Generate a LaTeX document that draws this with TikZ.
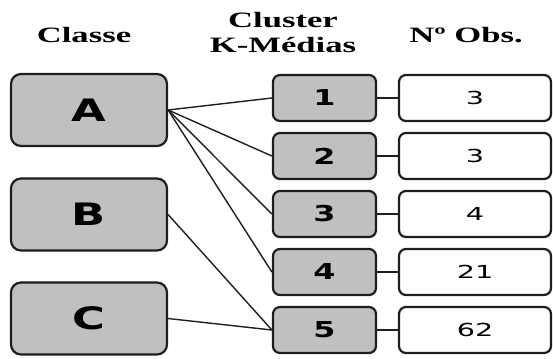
\documentclass[tikz,border=0pt]{standalone}
\usepackage{fontspec}
\newfontfamily\headfont[FakeStretch=1.58]{Liberation Serif}
\newfontfamily\boxfont[FakeStretch=1.45]{DejaVu Sans}
\newfontfamily\numfont[FakeStretch=1.6]{DejaVu Sans}
\definecolor{boxgray}{RGB}{192,192,192}
\definecolor{edge}{RGB}{30,30,30}
\tikzset{
  head/.style={font=\headfont\bfseries\fontsize{22}{25}\selectfont, align=center, inner sep=0pt},
  classe/.style={draw=edge, line width=2.2bp, fill=boxgray, rounded corners=10bp,
    minimum width=156bp, minimum height=72bp, inner sep=0pt,
    font=\boxfont\bfseries\fontsize{31}{31}\selectfont},
  cluster/.style={draw=edge, line width=2.2bp, fill=boxgray, rounded corners=7bp,
    minimum width=103bp, minimum height=46bp, inner sep=0pt,
    font=\boxfont\bfseries\fontsize{22}{22}\selectfont},
  obs/.style={draw=edge, line width=2.2bp, fill=white, rounded corners=7bp,
    minimum width=152bp, minimum height=46bp, inner sep=0pt,
    font=\numfont\fontsize{18}{18}\selectfont},
  link/.style={draw=edge, line width=1.4bp}
}
\begin{document}
\begin{tikzpicture}[x=1bp, y=-1bp]
  \useasboundingbox (0, 0) rectangle (553, 358);
  % cabecalhos
  \node [head, anchor=base] (hclasse) at (84, 42) {Classe};
  \node [head, anchor=base] (hcluster) at (283, 27) {Cluster};
  \node [head, anchor=base] (hkmedias) at (283, 52) {K-Médias};
  \node [head, anchor=base] (hobs) at (466, 42) {Nº Obs.};
  % classes
  \node [classe] (A) at (89, 110) {A};
  \node [classe] (B) at (89, 214.5) {B};
  \node [classe] (C) at (89, 318.5) {C};
  % clusters e numero de observacoes
  \foreach \i/\n in {1/3, 2/3, 3/4, 4/21, 5/62}
  {
    \pgfmathsetmacro{\y}{98 + 58*(\i - 1)};
    \node [cluster] (k\i) at (324.5, \y) {\i};
    \node [obs] (o\i) at (475, \y) {\n};
    \draw [link] (k\i.east) -- (o\i.west);
  }
  \draw [link] (A.east) -- (k1.west);
  \draw [link] (A.east) -- (k2.west);
  \draw [link] (A.east) -- (k3.west);
  \draw [link] (A.east) -- (k4.west);
  \draw [link] (B.east) -- (k5.west);
  \draw [link] (C.east) -- (k5.west);
\end{tikzpicture}
\end{document}
